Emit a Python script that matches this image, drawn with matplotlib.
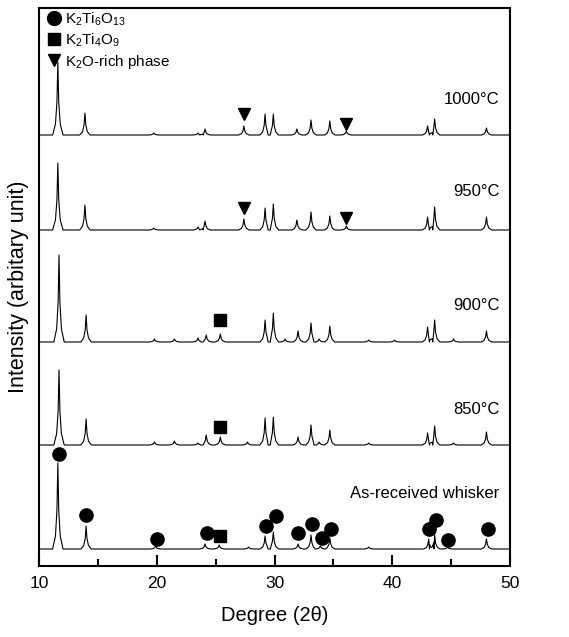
import numpy as np
import matplotlib
matplotlib.use("Agg")
import matplotlib.pyplot as plt
from matplotlib.lines import Line2D

plt.rcParams['font.family'] = ['Liberation Sans', 'DejaVu Sans']
plt.rcParams['mathtext.fontset'] = 'custom'
plt.rcParams['mathtext.rm'] = 'Liberation Sans'
plt.rcParams['mathtext.default'] = 'regular'

# traces, bottom to top; baseline offsets in arbitrary intensity units
labels = ["As-received whisker", "850°C", "900°C", "950°C", "1000°C"]
baselines = [17, 121, 224, 336, 431]

# peak positions (2theta) and heights above baseline
peaks_asr = [11.6, 14.0, 19.9, 24.1, 25.3, 27.8, 29.2, 29.9, 32.0, 33.1, 33.9, 34.7, 38.0, 43.1, 43.6, 44.7, 48.0]
heights_asr = [86, 23, 3, 5, 4, 2, 13, 17, 5, 14, 3, 11, 2, 10, 14, 2, 10]

peaks_850 = [11.7, 14.0, 19.8, 21.5, 23.5, 24.2, 25.4, 27.7, 29.2, 29.9, 32.0, 33.1, 33.8, 34.7, 38.0, 43.0, 43.6, 45.2, 48.0]
heights_850 = [75, 26, 3, 4, 2, 10, 8, 3, 27, 28, 8, 20, 3, 15, 2, 12, 19, 2, 13]

peaks_900 = [11.7, 14.0, 19.8, 21.5, 23.5, 24.2, 25.4, 29.2, 29.9, 30.9, 32.0, 33.1, 33.8, 34.7, 38.0, 40.2, 43.0, 43.6, 45.2, 48.0]
heights_900 = [87, 27, 3, 3, 4, 7, 8, 22, 29, 3, 11, 19, 3, 16, 2, 2, 15, 22, 3, 11]

peaks_950 = [11.6, 13.9, 19.75, 23.5, 24.1, 27.4, 29.2, 29.9, 31.9, 33.1, 34.7, 36.1, 43.0, 43.6, 48.0]
heights_950 = [67, 25, 2, 3, 9, 11, 22, 26, 10, 18, 14, 4, 13, 23, 13]

peaks_1000 = [11.6, 13.9, 19.75, 23.5, 24.1, 27.4, 29.2, 29.9, 31.9, 33.1, 34.7, 36.1, 43.0, 43.6, 48.0]
heights_1000 = [73, 22, 2, 2, 6, 9, 21, 21, 6, 15, 14, 4, 9, 16, 7]

peak_sets = [(peaks_asr, heights_asr), (peaks_850, heights_850), (peaks_900, heights_900),
             (peaks_950, heights_950), (peaks_1000, heights_1000)]

# phase markers: 2theta and height above the trace baseline
circle_x = [11.7, 14.0, 20.0, 24.3, 29.3, 30.1, 32.0, 33.2, 34.0, 34.8, 43.1, 43.7, 44.7, 48.1]
circle_y = [95, 34, 10, 16, 23, 33, 16, 25, 11, 20, 20, 29, 9, 20]
square_trace = [0, 1, 2]
square_x = [25.4, 25.4, 25.4]
square_y = [13, 18, 22]
tri_trace = [3, 3, 4, 4]
tri_x = [27.4, 36.1, 27.4, 36.1]
tri_y = [22, 12, 21, 11]

# peak profile: fraction of height at multiples of the half width
shape_dx = [-2.6, -1.2, -0.45, 0, 0.45, 1.2, 2.6]
shape_dy = [0, 0.15, 0.45, 1, 0.45, 0.15, 0]


def trace(pos, hts, base, hw=0.17):
    xs, ys = [10.0], [base]
    for p, h in sorted(zip(pos, hts)):
        for dx, dy in zip(shape_dx, shape_dy):
            xs.append(p + dx * hw)
            ys.append(base + dy * h)
    xs.append(50.0)
    ys.append(base)
    order = np.argsort(xs, kind='stable')
    return np.array(xs)[order], np.array(ys)[order]


fig = plt.figure(figsize=(5.69, 6.37), dpi=100)
ax = fig.add_axes([39 / 569, 71 / 637, 471 / 569, 558 / 637])

for (pos, hts), base in zip(peak_sets, baselines):
    x, y = trace(pos, hts, base)
    ax.plot(x, y, color='black', lw=0.8)

ax.plot(circle_x, np.array(circle_y) + baselines[0], 'o', color='black', ms=9.5, ls='none')
ax.plot(square_x, [baselines[i] + v for i, v in zip(square_trace, square_y)], 's',
        color='black', ms=8, ls='none')
ax.plot(tri_x, [baselines[i] + v for i, v in zip(tri_trace, tri_y)], 'v',
        color='black', ms=8.5, ls='none')

label_y = [72, 156, 260, 374, 467]
for lab, ly in zip(labels, label_y):
    ax.text(49.1, ly, lab, ha='right', va='center', fontsize=12)

handles = [Line2D([], [], marker='o', color='black', ls='none', ms=10),
           Line2D([], [], marker='s', color='black', ls='none', ms=9),
           Line2D([], [], marker='v', color='black', ls='none', ms=9)]
ax.legend(handles, [r'K$_2$Ti$_6$O$_{13}$', r'K$_2$Ti$_4$O$_9$', r'K$_2$O-rich phase'],
          loc='upper left', frameon=False, fontsize=11, handlelength=0.8,
          handletextpad=0.3, labelspacing=0.25, borderaxespad=0.0, borderpad=0.15,
          bbox_to_anchor=(0.015, 1.0))

ax.set_xlim(10, 50)
ax.set_ylim(0, 558)
ax.set_xticks([10, 20, 30, 40, 50])
ax.set_xticks([15, 25, 35, 45], minor=True)
ax.set_yticks([])
ax.tick_params(axis='x', which='major', direction='in', length=8, width=1.5, labelsize=12.5, pad=7)
ax.tick_params(axis='x', which='minor', direction='in', length=5, width=1.5)
for s in ax.spines.values():
    s.set_linewidth(1.5)
ax.set_xlabel('Degree (2θ)', fontsize=14.5, labelpad=11)
ax.set_ylabel('Intensity (arbitary unit)', fontsize=15.5, labelpad=7)

fig.savefig('out.png', dpi=100)
